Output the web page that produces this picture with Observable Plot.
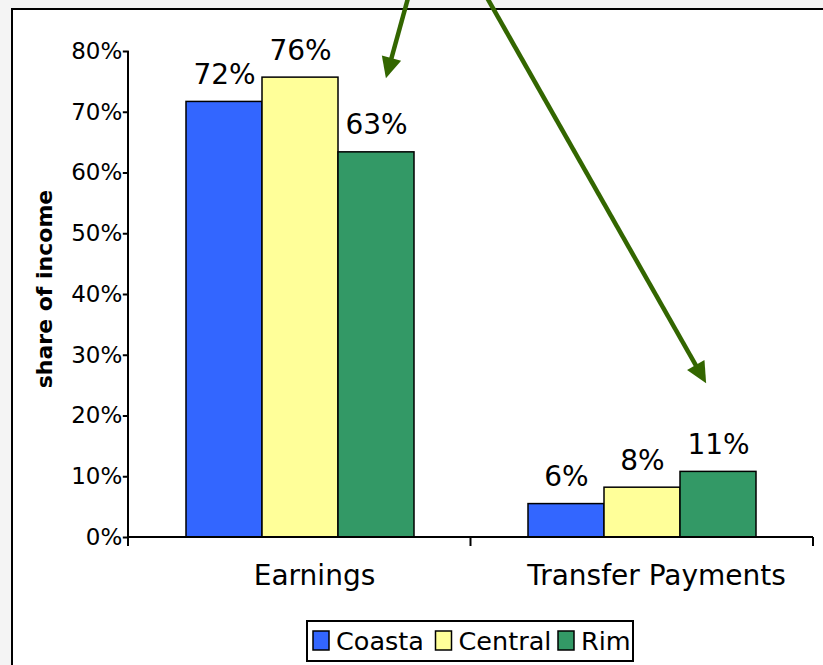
<!DOCTYPE html>
<html><head><meta charset="utf-8">
<script src="https://cdn.jsdelivr.net/npm/d3@7"></script>
<script src="https://cdn.jsdelivr.net/npm/@observablehq/plot@0.6"></script>
<style>body{margin:0;background:#f4f4f4;} #chart{width:823px;height:665px;position:relative;}</style>
</head><body><div id="chart"></div>
<script>
const categories = ["Earnings", "Transfer Payments"];
const series = ["Coastal", "Central", "Rim"];
const coastal = [71.7, 5.5];
const central = [75.7, 8.2];
const rim = [63.4, 10.8];
const colors = ["#3366FF", "#FFFF99", "#339966"];
const yTicks = [0, 10, 20, 30, 40, 50, 60, 70, 80];
const yLabel = "share of income";
// annotation arrows: x in category steps from the left end of the axis, y in % units
const arrowStartX = [0.818, 1.048];
const arrowEndX = [0.753, 1.688];
const arrowStartY = [88.8, 88.8];
const arrowEndY = [75.5, 25.3];

const valuesBySeries = [coastal, central, rim];
const data = [];
categories.forEach((c, i) => series.forEach((s, j) => data.push({category: c, series: s, value: valuesBySeries[j][i]})));

const W = 823, H = 665, ML = 128, MR = 10, MT = 51, MB = 128;
const padIn = 0.334, padOut = 0.167;
const stepPx = (W - ML - MR) / (categories.length - padIn + 2 * padOut);
const facetOffset = padOut * stepPx; // first facet's offset from the frame's left edge

const chart = Plot.plot({
  width: W, height: H,
  marginLeft: ML, marginRight: MR, marginTop: MT, marginBottom: MB,
  style: {fontFamily: "'DejaVu Sans', Verdana, sans-serif", background: "transparent", color: "black", overflow: "visible"},
  fx: {domain: categories, paddingInner: padIn, paddingOuter: padOut},
  x: {domain: series, padding: 0, axis: null},
  y: {domain: [0, 80]},
  color: {domain: series, range: colors},
  marks: [
    Plot.barY(data, {fx: "category", x: "series", y: "value", fill: "series", stroke: "black", strokeWidth: 1.5}),
    Plot.text(data, {fx: "category", x: "series", y: "value", text: d => Math.round(d.value) + "%", dy: -27, fontSize: 28, fill: "black"}),
    Plot.axisY({ticks: yTicks, tickFormat: d => d + "%", tickSize: 6, tickPadding: 1, fontSize: 23, strokeWidth: 2, label: null, dx: -facetOffset}),
    Plot.axisFx({anchor: "bottom", tickSize: 0, tickPadding: 28, fontSize: 28, dx: 14, label: null})
  ]
});
document.getElementById("chart").appendChild(chart);

const svg = d3.select(chart);
const fx = chart.scale("fx");
const y = chart.scale("y");
const x0 = fx.range[0], x1 = fx.range[1];
const step = (x1 - x0) / categories.length;
const y0 = y.apply(0), yTop = y.apply(80);

// frame
svg.insert("rect", ":first-child").attr("x", 12).attr("y", 9).attr("width", 900).attr("height", 900)
  .attr("fill", "white").attr("stroke", "black").attr("stroke-width", 2);

const g = svg.append("g");
// axes lines
g.append("line").attr("x1", x0).attr("x2", x0).attr("y1", yTop).attr("y2", y0).attr("stroke", "black").attr("stroke-width", 2);
g.append("line").attr("x1", x0).attr("x2", x1).attr("y1", y0).attr("y2", y0).attr("stroke", "black").attr("stroke-width", 2);
for (let k = 0; k <= categories.length; k++) {
  g.append("line").attr("x1", x0 + k * step).attr("x2", x0 + k * step).attr("y1", y0).attr("y2", y0 + 9).attr("stroke", "black").attr("stroke-width", 2);
}
// y label
g.append("text").attr("transform", `translate(44,${(y0 + yTop) / 2 - 5}) rotate(-90)`)
  .attr("text-anchor", "middle").attr("dy", "0.35em").attr("font-weight", "bold").attr("font-size", 22).text(yLabel);

// arrows
const arrowColor = "#336600";
arrowStartX.forEach((sx, i) => {
  const ax = x0 + sx * step, ay = y.apply(arrowStartY[i]);
  const bx = x0 + arrowEndX[i] * step, by = y.apply(arrowEndY[i]);
  const dx = bx - ax, dy = by - ay, L = Math.hypot(dx, dy);
  const ux = dx / L, uy = dy / L, hl = 21, hw = 10;
  const baseX = bx - ux * hl, baseY = by - uy * hl;
  g.append("line").attr("x1", ax).attr("y1", ay).attr("x2", baseX + ux * 2).attr("y2", baseY + uy * 2)
    .attr("stroke", arrowColor).attr("stroke-width", 4.5);
  g.append("polygon").attr("points", [[bx, by], [baseX - uy * hw, baseY + ux * hw], [baseX + uy * hw, baseY - ux * hw]].map(p => p.join(",")).join(" "))
    .attr("fill", arrowColor);
});

// legend
const lg = svg.append("g").attr("text-anchor", "start");
lg.append("rect").attr("x", 307).attr("y", 621).attr("width", 326).attr("height", 40).attr("fill", "white").attr("stroke", "black").attr("stroke-width", 2);
const defs = svg.append("defs");
const legendClipWidths = [89, 98, 60];
series.forEach((s, i) => {
  const sx = 313 + i * 122.5;
  const clipId = "lgclip" + i;
  defs.append("clipPath").attr("id", clipId).append("rect").attr("x", sx + 20).attr("y", 621).attr("width", legendClipWidths[i]).attr("height", 40);
  lg.append("text").attr("x", sx + 23).attr("y", 641).attr("dy", "0.35em").attr("text-anchor", "start").attr("font-size", 25.5).attr("clip-path", `url(#${clipId})`).text(s);
  lg.append("rect").attr("x", sx).attr("y", 631).attr("width", 16).attr("height", 19).attr("fill", colors[i]).attr("stroke", "black").attr("stroke-width", 1.5);
});
</script></body></html>
